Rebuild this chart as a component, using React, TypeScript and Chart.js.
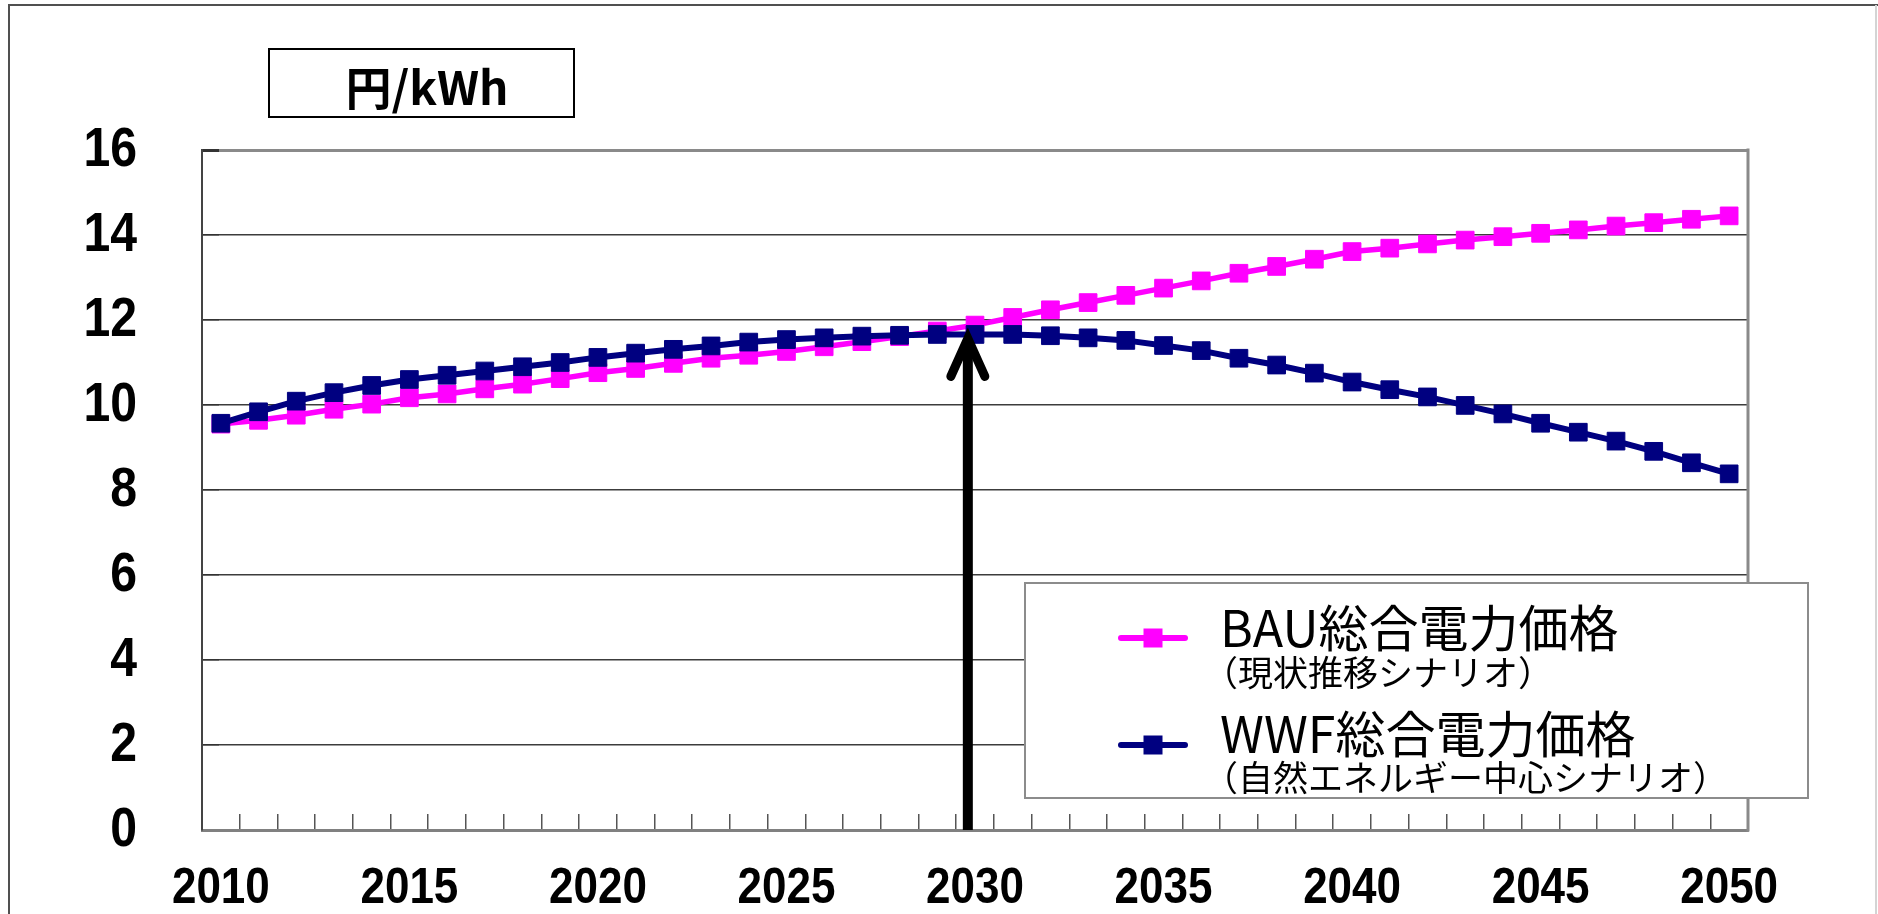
import React, { useEffect, useRef } from 'react';
import { Chart, registerables } from 'chart.js';

Chart.register(...registerables);

const YEARS = [
  '2010', '2011', '2012', '2013', '2014', '2015', '2016', '2017', '2018', '2019',
  '2020', '2021', '2022', '2023', '2024', '2025', '2026', '2027', '2028', '2029',
  '2030', '2031', '2032', '2033', '2034', '2035', '2036', '2037', '2038', '2039',
  '2040', '2041', '2042', '2043', '2044', '2045', '2046', '2047', '2048', '2049',
  '2050',
];
const X_TICK_LABELS = ['2010', '2015', '2020', '2025', '2030', '2035', '2040', '2045', '2050'];
const Y_TICKS = [0, 2, 4, 6, 8, 10, 12, 14, 16];

const BAU_VALUES = [
  9.55, 9.64, 9.76, 9.9, 10.02, 10.17, 10.26, 10.38, 10.49, 10.62,
  10.76, 10.86, 10.98, 11.1, 11.17, 11.26, 11.37, 11.49, 11.61, 11.74,
  11.88, 12.06, 12.24, 12.41, 12.58, 12.75, 12.92, 13.1, 13.26, 13.43,
  13.61, 13.69, 13.79, 13.88, 13.96, 14.04, 14.12, 14.21, 14.29, 14.37,
  14.45,
];
const WWF_VALUES = [
  9.57, 9.84, 10.09, 10.29, 10.46, 10.6, 10.7, 10.8, 10.9, 11.0,
  11.12, 11.22, 11.31, 11.39, 11.48, 11.54, 11.58, 11.62, 11.64, 11.66,
  11.66, 11.66, 11.63, 11.58, 11.52, 11.4, 11.28, 11.1, 10.94, 10.75,
  10.54, 10.36, 10.19, 9.99, 9.79, 9.57, 9.36, 9.15, 8.91, 8.64,
  8.38,
];

const SERIES_NAMES = ['BAU総合電力価格', 'WWF総合電力価格'];
const SERIES_SUBTITLES = ['（現状推移シナリオ）', '（自然エネルギー中心シナリオ）'];
const SERIES_COLORS = ['#FF00FF', '#000080'];
const UNIT_LABEL = '円/kWh';
const ARROW_YEAR = '2030';

const NUM_FONT = "'Liberation Sans', Arial, sans-serif";
const JP_FONT = "'Noto Sans CJK JP', 'Noto Sans', sans-serif";

const W = 1878;
const H = 914;

const decorPlugin = {
  id: 'decor',
  beforeDraw(chart: any) {
    const ctx = chart.ctx;
    ctx.save();
    ctx.fillStyle = '#ffffff';
    ctx.fillRect(0, 0, chart.width, chart.height);
    ctx.strokeStyle = '#505050';
    ctx.lineWidth = 2;
    ctx.beginPath();
    ctx.moveTo(9, chart.height);
    ctx.lineTo(9, 5);
    ctx.lineTo(chart.width, 5);
    ctx.stroke();
    ctx.strokeStyle = '#d4d4d4';
    ctx.beginPath();
    ctx.moveTo(chart.width - 2, 5);
    ctx.lineTo(chart.width - 2, chart.height);
    ctx.stroke();
    ctx.restore();
  },
  beforeDatasetsDraw(chart: any) {
    const { ctx, chartArea: a } = chart;
    ctx.save();
    ctx.strokeStyle = '#8a8a8a';
    ctx.lineWidth = 3;
    ctx.beginPath();
    ctx.moveTo(a.right, a.top - 1.5);
    ctx.lineTo(a.right, a.bottom + 1.5);
    ctx.stroke();

    // axis tick labels (narrowed like the original condensed face)
    const xs = chart.scales.x;
    const ys = chart.scales.y;
    ctx.fillStyle = '#000000';
    ctx.textBaseline = 'middle';
    ctx.font = `bold 50px ${NUM_FONT}`;
    ctx.textAlign = 'center';
    X_TICK_LABELS.forEach((lab) => {
      const px = xs.getPixelForValue(YEARS.indexOf(lab));
      ctx.save();
      ctx.translate(px, a.bottom + 59);
      ctx.scale(0.88, 1);
      ctx.fillText(lab, 0, 0);
      ctx.restore();
    });
    ctx.font = `bold 56px ${NUM_FONT}`;
    ctx.textAlign = 'right';
    Y_TICKS.forEach((v) => {
      const py = ys.getPixelForValue(v);
      ctx.save();
      ctx.translate(a.left - 65, py + 1);
      ctx.scale(0.86, 1);
      ctx.fillText(String(v), 0, 0);
      ctx.restore();
    });
    ctx.restore();
  },
  afterDatasetsDraw(chart: any) {
    const { ctx } = chart;
    const xs = chart.scales.x;
    const ys = chart.scales.y;
    const idx = YEARS.indexOf(ARROW_YEAR);
    const catW = xs.getPixelForValue(1) - xs.getPixelForValue(0);
    const x = xs.getPixelForValue(idx) - 0.19 * catW;
    const tipY = ys.getPixelForValue(WWF_VALUES[idx]);
    const baseY = ys.getPixelForValue(0);
    ctx.save();
    ctx.strokeStyle = '#000000';
    ctx.lineWidth = 10;
    ctx.lineCap = 'butt';
    ctx.beginPath();
    ctx.moveTo(x, baseY);
    ctx.lineTo(x, tipY + 6);
    ctx.stroke();
    ctx.lineWidth = 9;
    ctx.lineCap = 'round';
    ctx.lineJoin = 'miter';
    ctx.beginPath();
    ctx.moveTo(x - 17, tipY + 42);
    ctx.lineTo(x, tipY + 4);
    ctx.lineTo(x + 17, tipY + 42);
    ctx.stroke();
    ctx.restore();
  },
  afterDraw(chart: any) {
    const { ctx } = chart;
    ctx.save();
    // unit box
    ctx.fillStyle = '#ffffff';
    ctx.fillRect(269, 49, 305, 68);
    ctx.strokeStyle = '#000000';
    ctx.lineWidth = 2;
    ctx.strokeRect(269, 49, 305, 68);
    ctx.fillStyle = '#000000';
    ctx.font = `bold 46px ${JP_FONT}`;
    ctx.textAlign = 'center';
    ctx.textBaseline = 'alphabetic';
    ctx.fillText(UNIT_LABEL, 427, 105);

    // legend
    const lx = 1025;
    const ly = 583;
    const lw = 783;
    const lh = 215;
    ctx.fillStyle = '#ffffff';
    ctx.fillRect(lx, ly, lw, lh);
    ctx.strokeStyle = '#8c8c8c';
    ctx.lineWidth = 2;
    ctx.strokeRect(lx, ly, lw, lh);

    const rowY = [638, 745];
    const nameBase = [647, 753];
    const subBase = [686, 791];
    chart.data.datasets.forEach((ds: any) => {
      const li = ds.legendIndex;
      const y = rowY[li];
      ctx.strokeStyle = ds.borderColor;
      ctx.lineWidth = 6;
      ctx.lineCap = 'round';
      ctx.beginPath();
      ctx.moveTo(1121, y);
      ctx.lineTo(1185, y);
      ctx.stroke();
      ctx.fillStyle = ds.pointBackgroundColor;
      ctx.fillRect(1153 - 9.5, y - 9.5, 19, 19);
      ctx.fillStyle = '#000000';
      ctx.textAlign = 'left';
      ctx.textBaseline = 'alphabetic';
      ctx.font = `50px ${JP_FONT}`;
      ctx.fillText(SERIES_NAMES[li], 1220, nameBase[li]);
      ctx.font = `35px ${JP_FONT}`;
      ctx.fillText(SERIES_SUBTITLES[li], 1203, subBase[li]);
    });
    ctx.restore();
  },
};

export default function App() {
  const canvasRef = useRef<HTMLCanvasElement | null>(null);

  useEffect(() => {
    if (!canvasRef.current) return;
    const chart = new Chart(canvasRef.current, {
      type: 'line',
      data: {
        labels: YEARS,
        datasets: [
          {
            label: SERIES_NAMES[1],
            data: WWF_VALUES,
            borderColor: SERIES_COLORS[1],
            backgroundColor: SERIES_COLORS[1],
            pointBackgroundColor: SERIES_COLORS[1],
            pointBorderColor: SERIES_COLORS[1],
            borderWidth: 6,
            pointStyle: 'rect',
            pointRadius: 12.5,
            pointBorderWidth: 1,
            tension: 0,
            order: 0,
            legendIndex: 1,
          } as any,
          {
            label: SERIES_NAMES[0],
            data: BAU_VALUES,
            borderColor: SERIES_COLORS[0],
            backgroundColor: SERIES_COLORS[0],
            pointBackgroundColor: SERIES_COLORS[0],
            pointBorderColor: SERIES_COLORS[0],
            borderWidth: 5.5,
            pointStyle: 'rect',
            pointRadius: 12.5,
            pointBorderWidth: 1,
            tension: 0,
            order: 1,
            legendIndex: 0,
          } as any,
        ],
      },
      options: {
        animation: false,
        responsive: true,
        maintainAspectRatio: false,
        devicePixelRatio: 1,
        layout: { padding: { left: 0, right: W - 1748, top: 150, bottom: 0 }, autoPadding: false },
        plugins: {
          legend: { display: false },
          tooltip: { enabled: false },
          title: { display: false },
        },
        scales: {
          x: {
            type: 'category',
            offset: true,
            grid: {
              offset: true,
              drawOnChartArea: false,
              drawTicks: true,
              tickLength: -16,
              tickColor: '#555555',
              lineWidth: 1.5,
            },
            border: { display: true, color: '#808080', width: 3 },
            ticks: {
              display: false,
              autoSkip: false,
              maxRotation: 0,
              minRotation: 0,
            },
            afterFit: (s: any) => {
              s.height = H - 830;
            },
          },
          y: {
            type: 'linear',
            min: 0,
            max: 16,
            afterBuildTicks: (s: any) => {
              s.ticks = Y_TICKS.map((v) => ({ value: v }));
            },
            grid: {
              drawTicks: true,
              tickLength: -17,
              tickColor: '#333333',
              color: (c: any) =>
                c.tick && (c.tick.value === 16 || c.tick.value === 0) ? '#8a8a8a' : '#3c3c3c',
              lineWidth: (c: any) => (c.tick && c.tick.value === 16 ? 3 : 1.5),
            },
            border: { display: true, color: '#444444', width: 2 },
            ticks: { display: false },
            afterFit: (s: any) => {
              s.width = 202;
            },
          },
        },
      } as any,
      plugins: [decorPlugin],
    });
    return () => chart.destroy();
  }, []);

  return (
    <div style={{ position: 'absolute', left: 0, top: 0, width: W, height: H, background: '#fff' }}>
      <canvas ref={canvasRef} style={{ display: 'block' }} />
    </div>
  );
}
